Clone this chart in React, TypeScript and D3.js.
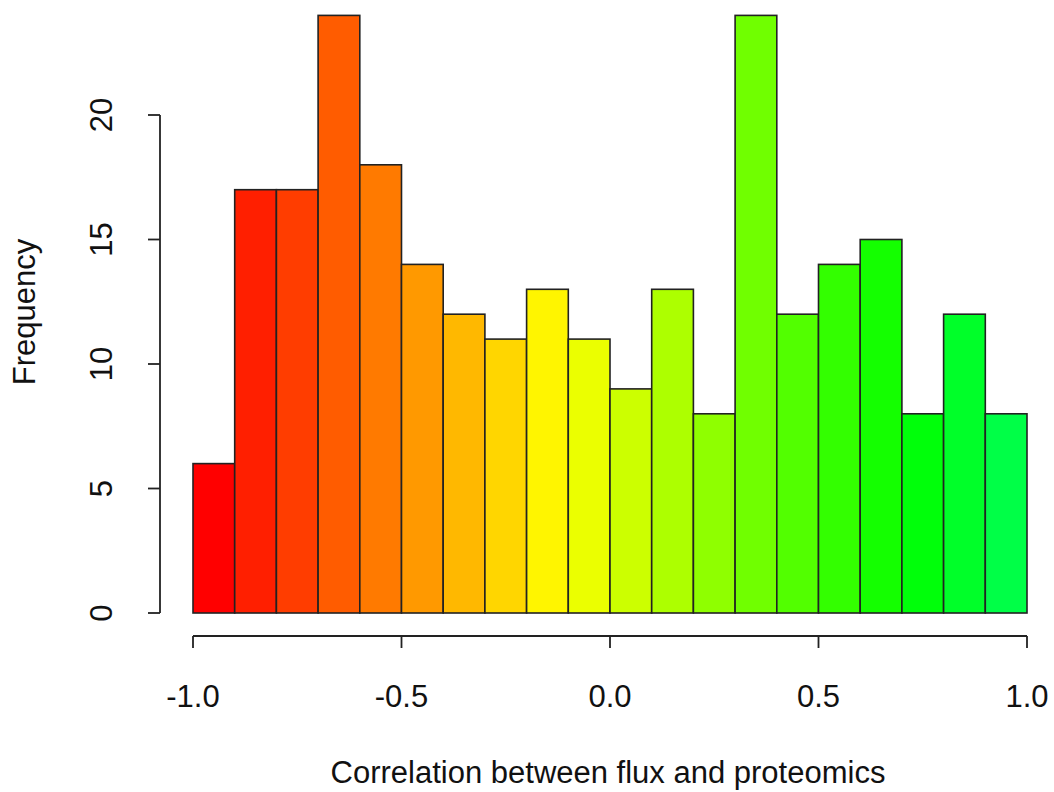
import React from "react";
import * as d3 from "d3";

// Histogram of correlation values, bins of width 0.1 from -1 to 1
const binStarts = [-1.0, -0.9, -0.8, -0.7, -0.6, -0.5, -0.4, -0.3, -0.2, -0.1, 0.0, 0.1, 0.2, 0.3, 0.4, 0.5, 0.6, 0.7, 0.8, 0.9];
const counts = [6, 17, 17, 24, 18, 14, 12, 11, 13, 11, 9, 13, 8, 24, 12, 14, 15, 8, 12, 8];
const xTicks = [-1.0, -0.5, 0.0, 0.5, 1.0];
const yTicks = [0, 5, 10, 15, 20];
const binWidth = 0.1;

const W = 1054;
const H = 792;
const FONT = "'Liberation Sans', Arial, sans-serif";
const FS = 31;

export default function App() {
  const x = d3.scaleLinear().domain([-1, 1]).range([193, 1027]);
  const y = d3.scaleLinear().domain([0, 20]).range([613, 115]);
  // R rainbow-style hues stepping 7.2 degrees per bin
  const color = (i: number) => d3.hsl(i * 7.2, 1, 0.5).formatHex();

  const xAxisY = 636;
  const yAxisX = 160;
  const ink = "#222";

  return (
    <svg
      width={W}
      height={H}
      style={{ position: "absolute", left: 0, top: 0, background: "#fff" }}
      fontFamily={FONT}
    >
      {binStarts.map((b, i) => (
        <rect
          key={i}
          x={x(b)}
          y={y(counts[i])}
          width={x(b + binWidth) - x(b)}
          height={y(0) - y(counts[i])}
          fill={color(i)}
          stroke={ink}
          strokeWidth={1.6}
        />
      ))}

      {/* x axis */}
      <line x1={x(xTicks[0])} x2={x(xTicks[xTicks.length - 1])} y1={xAxisY} y2={xAxisY} stroke={ink} strokeWidth={1.8} />
      {xTicks.map((t) => (
        <g key={t}>
          <line x1={x(t)} x2={x(t)} y1={xAxisY} y2={xAxisY + 12} stroke={ink} strokeWidth={1.8} />
          <text x={x(t)} y={707} textAnchor="middle" fontSize={FS} fill="#111">
            {t.toFixed(1)}
          </text>
        </g>
      ))}

      {/* y axis */}
      <line x1={yAxisX} x2={yAxisX} y1={y(yTicks[0])} y2={y(yTicks[yTicks.length - 1])} stroke={ink} strokeWidth={1.8} />
      {yTicks.map((t) => (
        <g key={t}>
          <line x1={yAxisX - 12} x2={yAxisX} y1={y(t)} y2={y(t)} stroke={ink} strokeWidth={1.8} />
          <text
            transform={`translate(112,${y(t)}) rotate(-90)`}
            textAnchor="middle"
            fontSize={FS}
            fill="#111"
          >
            {t}
          </text>
        </g>
      ))}

      <text x={608} y={783} textAnchor="middle" fontSize={FS} fill="#111">
        Correlation between flux and proteomics
      </text>
      <text transform="translate(35,312) rotate(-90)" textAnchor="middle" fontSize={FS} fill="#111">
        Frequency
      </text>
    </svg>
  );
}
